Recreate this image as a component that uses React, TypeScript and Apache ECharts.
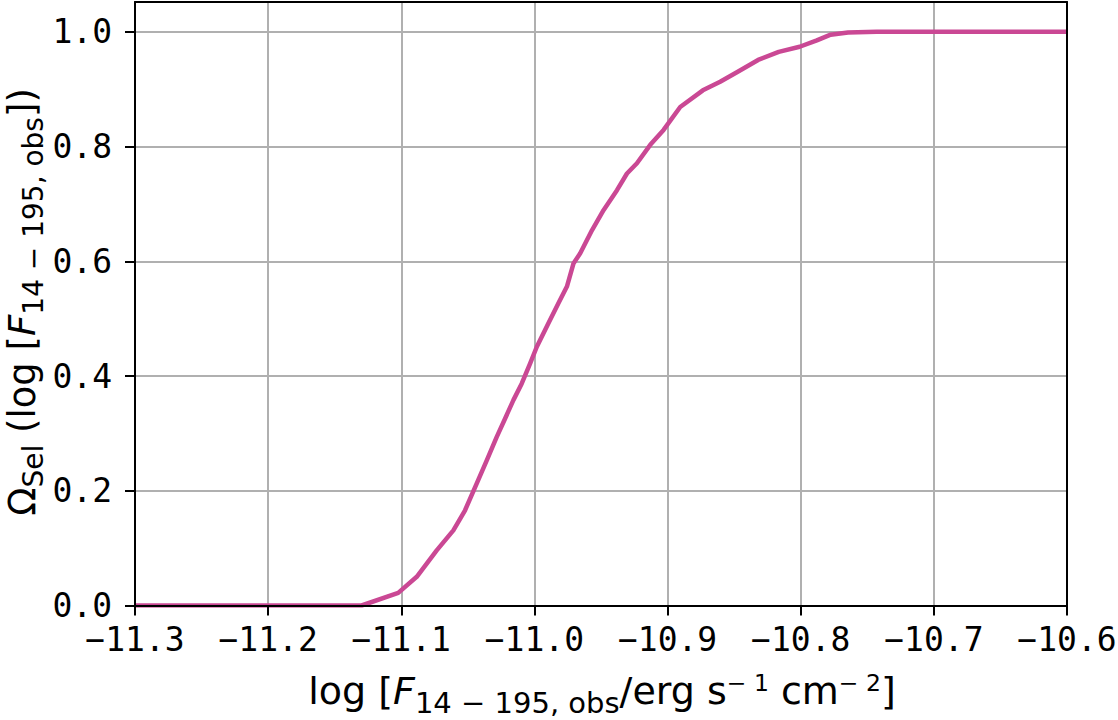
import React, { useEffect, useRef } from 'react';
import * as echarts from 'echarts';

// log flux values (x) and selection function values (y)
const fluxLog = [
  -11.3, -11.1298, -11.1023, -11.0884, -11.0734, -11.0609, -11.0521, -11.0433, -11.0358,
  -11.0283, -11.022, -11.0158, -11.0095, -11.0032, -10.9982, -10.9895, -10.982, -10.9756,
  -10.9707, -10.9656, -10.9568, -10.9481, -10.938, -10.9305, -10.923, -10.913, -10.903,
  -10.8905, -10.8735, -10.8605, -10.8476, -10.832, -10.8165, -10.8008, -10.7879, -10.7775,
  -10.7645, -10.743, -10.7, -10.65, -10.6,
];
const omegaSel = [
  0, 0, 0.022, 0.05, 0.096, 0.131, 0.166, 0.213, 0.253,
  0.294, 0.326, 0.358, 0.387, 0.422, 0.451, 0.492, 0.527, 0.556,
  0.596, 0.614, 0.654, 0.689, 0.724, 0.753, 0.771, 0.803, 0.829,
  0.869, 0.898, 0.913, 0.93, 0.951, 0.965, 0.974, 0.985, 0.995,
  0.999, 1.0, 1.0, 1.0, 1.0,
];
const xTicks = [-11.3, -11.2, -11.1, -11.0, -10.9, -10.8, -10.7, -10.6];
const yTicks = [0, 0.2, 0.4, 0.6, 0.8, 1.0];

const X_MIN = -11.3;
const X_MAX = -10.6;
const Y_MIN = 0;
const Y_MAX = 1.052;

const LINE_COLOR = '#ca4894';
const GRID_COLOR = '#b0b0b0';
const MAIN = 38;
const SUB = 29;
const SUP = 23.5;
const Y_MAIN = 37;
const Y_SUB = 28;

type Seg = { text: string; size: number; dy: number; italic?: boolean };

const xLabelSegs: Seg[] = [
  { text: 'log [', size: MAIN, dy: 0 },
  { text: 'F', size: MAIN, dy: 0, italic: true },
  { text: '14 − 195, obs', size: SUB, dy: 9 },
  { text: '/erg s', size: MAIN, dy: 0 },
  { text: '− 1', size: SUP, dy: -13 },
  { text: ' cm', size: MAIN, dy: 0 },
  { text: '− 2', size: SUP, dy: -13 },
  { text: ']', size: MAIN, dy: 0 },
];

const yLabelSegs: Seg[] = [
  { text: 'Ω', size: Y_MAIN, dy: 0 },
  { text: 'Sel', size: Y_SUB, dy: 8.5 },
  { text: ' (log [', size: Y_MAIN, dy: 0 },
  { text: 'F', size: Y_MAIN, dy: 0, italic: true },
  { text: '14 − 195, obs', size: Y_SUB, dy: 8.5 },
  { text: '])', size: Y_MAIN, dy: 0 },
];

const FONT = 'DejaVu Sans';

function buildLabel(segs: Seg[], x: number, y: number, rotation: number) {
  const canvas = document.createElement('canvas');
  const ctx = canvas.getContext('2d') as CanvasRenderingContext2D;
  const widths = segs.map((s) => {
    ctx.font = `${s.italic ? 'italic ' : ''}${s.size}px "${FONT}"`;
    return ctx.measureText(s.text).width;
  });
  const total = widths.reduce((a, b) => a + b, 0);
  let cx = -total / 2;
  const children = segs.map((s, i) => {
    const el = {
      type: 'text',
      x: cx,
      y: s.dy - 0.346 * s.size,
      style: {
        text: s.text,
        fontSize: s.size,
        fontFamily: FONT,
        fontStyle: s.italic ? 'italic' : 'normal',
        fill: '#000',
        textAlign: 'left',
        align: 'left',
        textVerticalAlign: 'middle',
        verticalAlign: 'middle',
      },
    };
    cx += widths[i];
    return el;
  });
  return { type: 'group', x, y, rotation, children };
}

const fmtX = (v: number) => (v < 0 ? '−' : '') + Math.abs(v).toFixed(1);
const fmtY = (v: number) => v.toFixed(1);

export default function App() {
  const ref = useRef<HTMLDivElement>(null);
  useEffect(() => {
    document.body.style.margin = '0';
    if (!ref.current) return;
    const chart = echarts.init(ref.current, undefined, { renderer: 'svg' });
    const tickFont = { fontFamily: 'DejaVu Sans Mono', fontSize: 33, color: '#000' };
    const spine = { show: true, onZero: false, lineStyle: { color: '#000', width: 2 } };
    const option: any = {
      animation: false,
      backgroundColor: '#fff',
      grid: { left: 135, right: 51, top: 2, bottom: 114.5, containLabel: false, outerBoundsMode: 'none' },
      xAxis: [
        {
          type: 'value', min: X_MIN, max: X_MAX, interval: 0.1, position: 'bottom', offset: 0, z: 10,
          axisLine: spine,
          axisTick: { show: true, inside: false, length: 10, lineStyle: { color: '#000', width: 2 }, customValues: xTicks },
          axisLabel: { show: true, margin: 17, ...tickFont, customValues: xTicks, formatter: fmtX },
          splitLine: { show: false },
        },
        {
          type: 'value', min: X_MIN, max: X_MAX, interval: 0.1, position: 'top', offset: 0, z: 10,
          axisLine: spine, axisTick: { show: false }, axisLabel: { show: false }, splitLine: { show: false },
        },
        {
          type: 'value', min: X_MIN, max: X_MAX, interval: 0.1, position: 'bottom', offset: 0, z: 0,
          axisLine: { show: false }, axisTick: { show: false }, axisLabel: { show: false },
          splitLine: { show: true, lineStyle: { color: GRID_COLOR, width: 2 } },
        },
      ],
      yAxis: [
        {
          type: 'value', min: Y_MIN, max: Y_MAX, interval: 0.2, position: 'left', offset: 0, z: 10,
          axisLine: spine,
          axisTick: { show: true, inside: false, length: 10, lineStyle: { color: '#000', width: 2 }, customValues: yTicks },
          axisLabel: { show: true, margin: 23, ...tickFont, customValues: yTicks, formatter: fmtY },
          splitLine: { show: false },
        },
        {
          type: 'value', min: Y_MIN, max: Y_MAX, interval: 0.2, position: 'right', offset: 0, z: 10,
          axisLine: spine, axisTick: { show: false }, axisLabel: { show: false }, splitLine: { show: false },
        },
        {
          type: 'value', min: Y_MIN, max: Y_MAX, interval: 0.2, position: 'left', offset: 0, z: 0,
          axisLine: { show: false }, axisTick: { show: false }, axisLabel: { show: false },
          splitLine: { show: true, lineStyle: { color: GRID_COLOR, width: 2 } },
        },
      ],
      series: [
        {
          type: 'line',
          xAxisIndex: 0,
          yAxisIndex: 0,
          data: fluxLog.map((x, i) => [x, omegaSel[i]]),
          symbol: 'none',
          showSymbol: false,
          z: 5,
          lineStyle: { color: LINE_COLOR, width: 4.5, join: 'round', cap: 'butt' },
        },
      ],
      graphic: [
        buildLabel(xLabelSegs, 602, 704, 0),
        buildLabel(yLabelSegs, 35, 302, Math.PI / 2),
      ],
    };
    chart.setOption(option);
    return () => chart.dispose();
  }, []);
  return <div ref={ref} style={{ width: 1118, height: 720 }} />;
}
